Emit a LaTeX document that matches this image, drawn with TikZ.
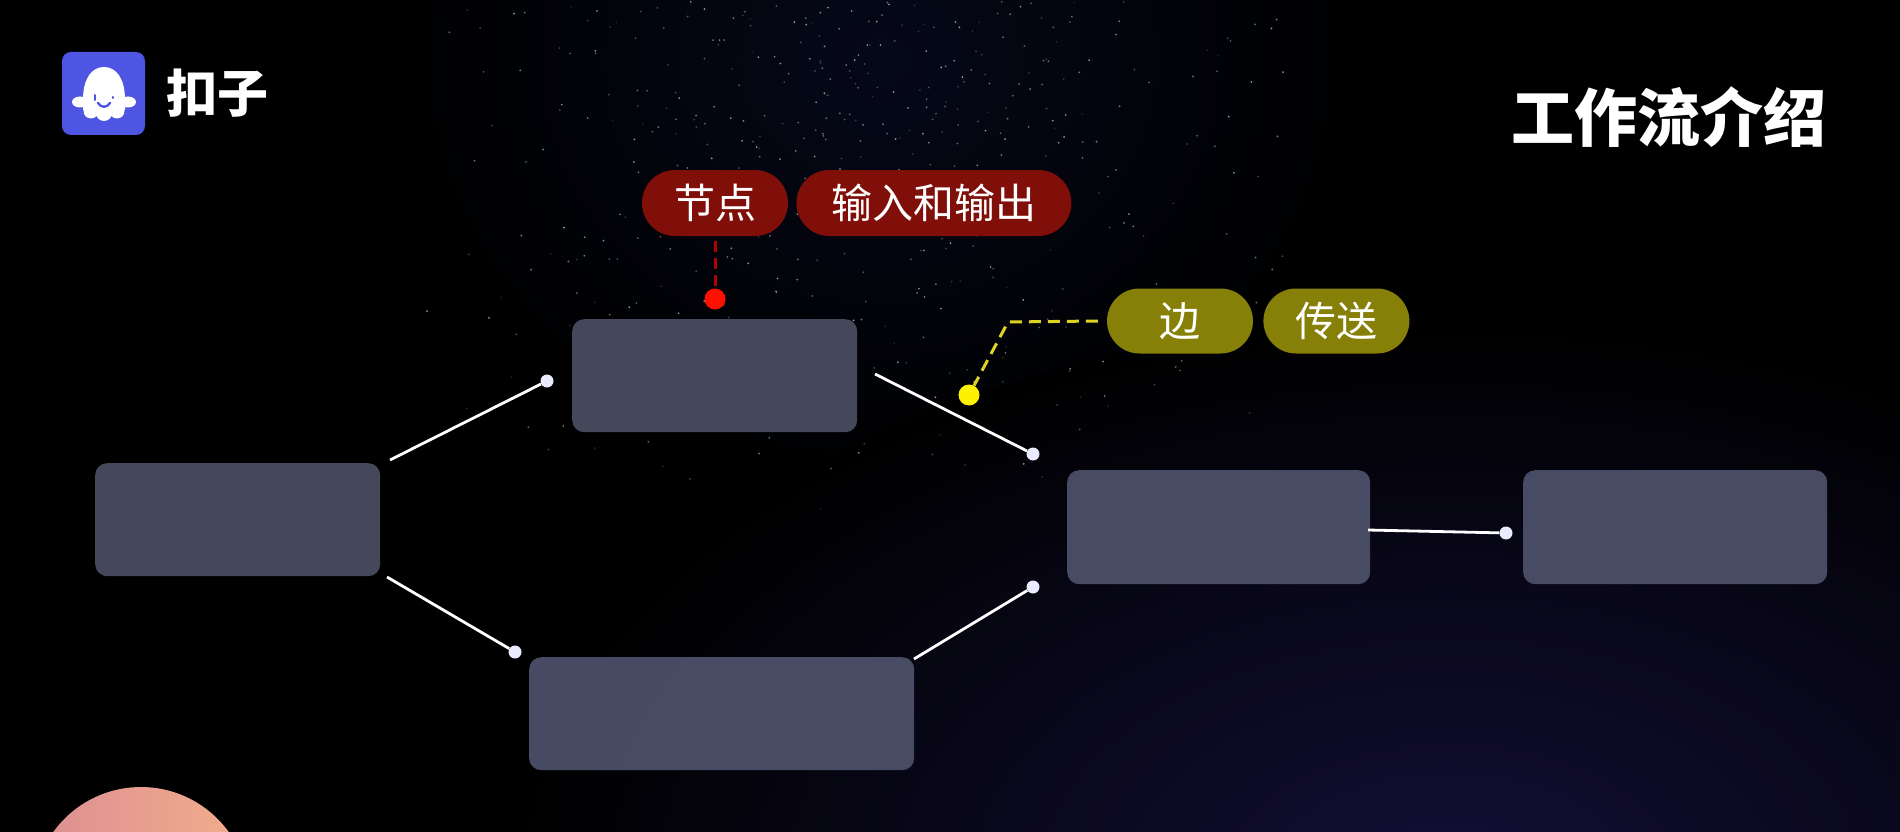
\documentclass[tikz,border=0pt]{standalone}
\usepackage{fontspec}
\setmainfont{Noto Sans CJK SC}
\usetikzlibrary{shapes.misc, positioning}
\definecolor{boxgray}{HTML}{474B5E}
\definecolor{boxblue}{HTML}{4A4E67}
\definecolor{pillred}{HTML}{7F0F08}
\definecolor{pillolive}{HTML}{878008}
\definecolor{logoblue}{HTML}{4D55E2}
\definecolor{glow}{HTML}{130F36}
\definecolor{skyglow}{HTML}{050819}
\definecolor{handpink}{HTML}{DB8E92}
\definecolor{handpeach}{HTML}{F2AE8C}
\tikzstyle{box} = [rectangle, rounded corners = 12pt, fill = boxgray, fill opacity = 0.96, inner sep = 0pt, anchor = north west]
\tikzstyle{redpill} = [rounded rectangle, minimum height = 66pt, inner sep = 0pt, fill = pillred, text = white, font = \fontsize{41}{41}\selectfont]
\tikzstyle{olivepill} = [rounded rectangle, minimum height = 65pt, inner sep = 0pt, fill = pillolive, text = white, font = \fontsize{41}{41}\selectfont]
\tikzstyle{dot} = [circle, fill = white!92!blue, minimum size = 13pt, inner sep = 0pt]
\tikzstyle{edge} = [draw = white, line width = 2.8pt]

\begin{document}
\begin{tikzpicture}[x = 1pt, y = -1pt]

\useasboundingbox (0, 0) rectangle (1900, 832);
\clip (0, 0) rectangle (1900, 832);

%BACKGROUND
\fill [black] (0, 0) rectangle (1900, 832);
\shade [inner color = skyglow, outer color = black] (880, 60) ellipse (480 and 420);
\shade [inner color = glow, outer color = black] (1450, 880) ellipse (950 and 560);
\pgfmathsetseed{1234}
\foreach \i in {1, ..., 480} {
  \pgfmathsetmacro{\starx}{860 + 230 * (rand + rand)}
  \pgfmathsetmacro{\stary}{abs(rand + rand) * 260}
  \pgfmathsetmacro{\starop}{0.35 + 0.25 * rand}
  \fill [white, opacity = \starop] (\starx, \stary) circle (1);
}

%NODES
\node (inbox) [box, minimum width = 285pt, minimum height = 113pt] at (95, 463) {};
\node (topbox) [box, minimum width = 285pt, minimum height = 113pt] at (572, 319) {};
\node (lowbox) [box, fill = boxblue, minimum width = 385pt, minimum height = 113pt] at (529, 657) {};
\node (midbox) [box, fill = boxblue, minimum width = 303pt, minimum height = 114pt] at (1067, 470) {};
\node (outbox) [box, fill = boxblue, minimum width = 304pt, minimum height = 114pt] at (1523, 470) {};

\node (dotup) [dot] at (547, 381) {};
\node (dotdown) [dot] at (515, 652) {};
\node (dotin) [dot] at (1033, 454) {};
\node (dotlow) [dot] at (1033, 587) {};
\node (dotout) [dot] at (1506, 533) {};
\coordinate (startup) at (390, 460);
\coordinate (startdown) at (387, 577);
\coordinate (startin) at (875, 374);
\coordinate (startlow) at (914, 659);
\coordinate (startout) at (1368, 530);

\node (nodepill) [redpill, minimum width = 146pt] at (715, 203) {节点};
\node (iopill) [redpill, minimum width = 275pt, right = 8pt of nodepill] {输入和输出};
\node (edgepill) [olivepill, minimum width = 146pt] at (1180, 321) {边};
\node (sendpill) [olivepill, minimum width = 146pt, right = 10pt of edgepill] {传送};

\node (reddot) [circle, fill = red!88!orange, minimum size = 21pt, inner sep = 0pt] at (715, 299) {};
\node (yellowdot) [circle, fill = yellow, minimum size = 21pt, inner sep = 0pt] at (969, 395) {};
\coordinate (bend) at (1008, 322);

%ARROWS
\draw [edge] (startup) -- (dotup);
\draw [edge] (startdown) -- (dotdown);
\draw [edge] (startin) -- (dotin);
\draw [edge] (startlow) -- (dotlow);
\draw [edge] (startout) -- (dotout);
\draw [draw = red!70!black, line width = 3pt, dash pattern = on 11pt off 6pt] (nodepill.south) ++(0, 5) -- (reddot);
\draw [draw = yellow!85!black, line width = 3pt, dash pattern = on 12pt off 7pt] (edgepill.west) ++(-9, 0) -- (bend) -- (yellowdot);

%TITLE
\node (title) [text = white, font = \fontsize{63}{63}\bfseries\selectfont, anchor = east] at (1830, 117) {工作流介绍};

%LOGO
\fill [logoblue] (62, 52) [rounded corners = 9pt] rectangle (145, 135);
\fill [white] (83, 100) .. controls (83, 78) and (92, 67) .. (104, 67) .. controls (116, 67) and (125, 78) .. (125, 100) -- (125, 110) -- (83, 110) -- cycle;
\fill [white] (80, 102) ellipse (8 and 5.5);
\fill [white] (128, 102) ellipse (8 and 5.5);
\fill [white] (91, 111) circle (7.5);
\fill [white] (104, 113) circle (8);
\fill [white] (117, 111) circle (7.5);
\draw [logoblue, line width = 2pt, line cap = round] (94.5, 95) -- (94.5, 100);
\draw [logoblue, line width = 2pt, line cap = round] (113, 97) -- (113, 98);
\draw [logoblue, line width = 2.4pt, line cap = round] (98, 103) .. controls (101, 108) and (107, 108) .. (110, 103);
\node (logotext) [text = white, font = \fontsize{51}{51}\bfseries\selectfont, anchor = west] at (163, 93) {扣子};

%HAND
\shade [left color = handpink, right color = handpeach] (141, 895) circle (108);

\end{tikzpicture}
\end{document}
